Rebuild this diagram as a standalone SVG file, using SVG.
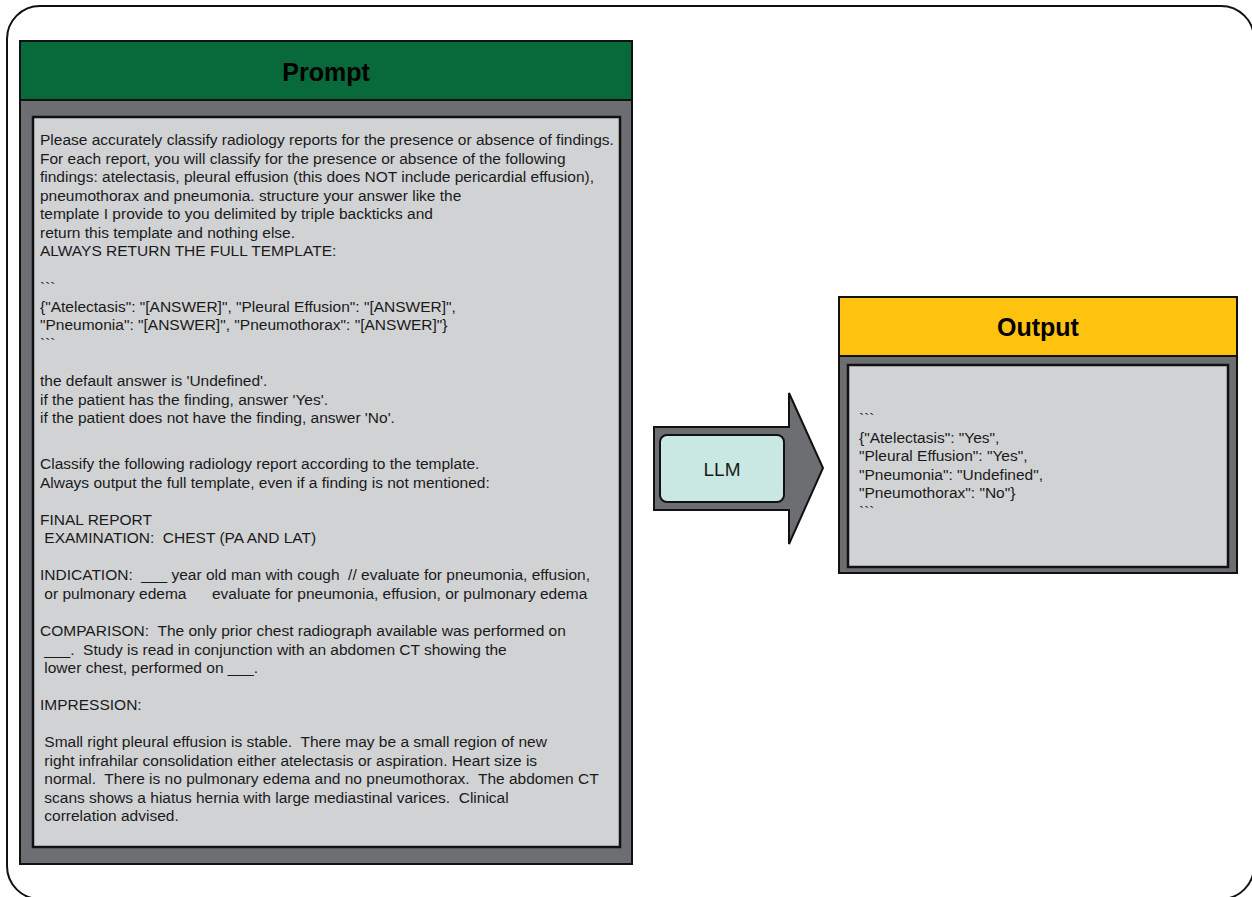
<svg xmlns="http://www.w3.org/2000/svg" width="1252" height="897" viewBox="0 0 1252 897">
<style>
.t{font-family:"Liberation Sans",Arial,sans-serif;font-size:15.5px;fill:#1a1a1a;white-space:pre}
.h{font-family:"Liberation Sans",Arial,sans-serif;font-size:25px;font-weight:bold;fill:#000;text-anchor:middle}
.panel{fill:#6D6E71;stroke:#111;stroke-width:2}
.inner{fill:#D1D2D4;stroke:#111;stroke-width:2.5}
</style>
<rect width="1252" height="897" fill="#fff"/>
<rect id="frame" x="7" y="6" width="1247" height="893" rx="33" fill="none" stroke="#111" stroke-width="2"/>
<g id="connectors">
<path d="M654,427 L789,427 L789,393 L823,468 L789,544 L789,510 L654,510 Z" fill="#6D6E71" stroke="#111" stroke-width="2"/>
</g>
<g id="prompt">
<rect class="panel" x="20" y="41" width="612" height="823"/>
<rect x="20" y="41" width="612" height="59" fill="#08693A" stroke="#111" stroke-width="2"/>
<text class="h" x="326" y="81">Prompt</text>
<rect class="inner" x="33" y="117" width="587" height="730"/>
<text class="t" x="40" y="145">Please accurately classify radiology reports for the presence or absence of findings.</text>
<text class="t" x="40" y="163.5">For each report, you will classify for the presence or absence of the following</text>
<text class="t" x="40" y="182">findings: atelectasis, pleural effusion (this does NOT include pericardial effusion),</text>
<text class="t" x="40" y="200.5">pneumothorax and pneumonia. structure your answer like the</text>
<text class="t" x="40" y="219">template I provide to you delimited by triple backticks and</text>
<text class="t" x="40" y="237.5">return this template and nothing else.</text>
<text class="t" x="40" y="256">ALWAYS RETURN THE FULL TEMPLATE:</text>
<text class="t" x="40" y="293">```</text>
<text class="t" x="40" y="311.5">{"Atelectasis": "[ANSWER]", "Pleural Effusion": "[ANSWER]",</text>
<text class="t" x="40" y="330">"Pneumonia": "[ANSWER]", "Pneumothorax": "[ANSWER]"}</text>
<text class="t" x="40" y="348.5">```</text>
<text class="t" x="40" y="386">the default answer is 'Undefined'.</text>
<text class="t" x="40" y="404.5">if the patient has the finding, answer 'Yes'.</text>
<text class="t" x="40" y="423">if the patient does not have the finding, answer 'No'.</text>
<text class="t" x="40" y="469">Classify the following radiology report according to the template.</text>
<text class="t" x="40" y="487.5">Always output the full template, even if a finding is not mentioned:</text>
<text class="t" x="40" y="524.5">FINAL REPORT</text>
<text class="t" x="40" y="543"> EXAMINATION:  CHEST (PA AND LAT)</text>
<text class="t" x="40" y="580">INDICATION:  ___ year old man with cough  // evaluate for pneumonia, effusion,</text>
<text class="t" x="40" y="598.5"> or pulmonary edema<tspan x="212">evaluate for pneumonia, effusion, or pulmonary edema</tspan></text>
<text class="t" x="40" y="636">COMPARISON:  The only prior chest radiograph available was performed on</text>
<text class="t" x="40" y="654.5"> ___.  Study is read in conjunction with an abdomen CT showing the</text>
<text class="t" x="40" y="673"> lower chest, performed on ___.</text>
<text class="t" x="40" y="710">IMPRESSION:</text>
<text class="t" x="40" y="747"> Small right pleural effusion is stable.  There may be a small region of new</text>
<text class="t" x="40" y="765.5"> right infrahilar consolidation either atelectasis or aspiration. Heart size is</text>
<text class="t" x="40" y="784"> normal.  There is no pulmonary edema and no pneumothorax.  The abdomen CT</text>
<text class="t" x="40" y="802.5"> scans shows a hiatus hernia with large mediastinal varices.  Clinical</text>
<text class="t" x="40" y="821"> correlation advised.</text>
</g>
<g id="llm">
<rect x="660" y="435" width="124" height="67" rx="7" fill="#C9E8E4" stroke="#111" stroke-width="2"/>
<text x="722" y="476" font-family="'Liberation Sans',Arial,sans-serif" font-size="19" text-anchor="middle" fill="#1a1a1a">LLM</text>
</g>
<g id="output">
<rect class="panel" x="839" y="297" width="398" height="276"/>
<rect x="839" y="297" width="398" height="59" fill="#FFC20E" stroke="#111" stroke-width="2"/>
<text class="h" x="1038" y="336">Output</text>
<rect class="inner" x="848" y="365" width="380" height="202"/>
<text class="t" x="859" y="424">```</text>
<text class="t" x="859" y="442.5">{"Atelectasis": "Yes",</text>
<text class="t" x="859" y="461">"Pleural Effusion": "Yes",</text>
<text class="t" x="859" y="479.5">"Pneumonia": "Undefined",</text>
<text class="t" x="859" y="498">"Pneumothorax": "No"}</text>
<text class="t" x="859" y="516.5">```</text>
</g>
</svg>
